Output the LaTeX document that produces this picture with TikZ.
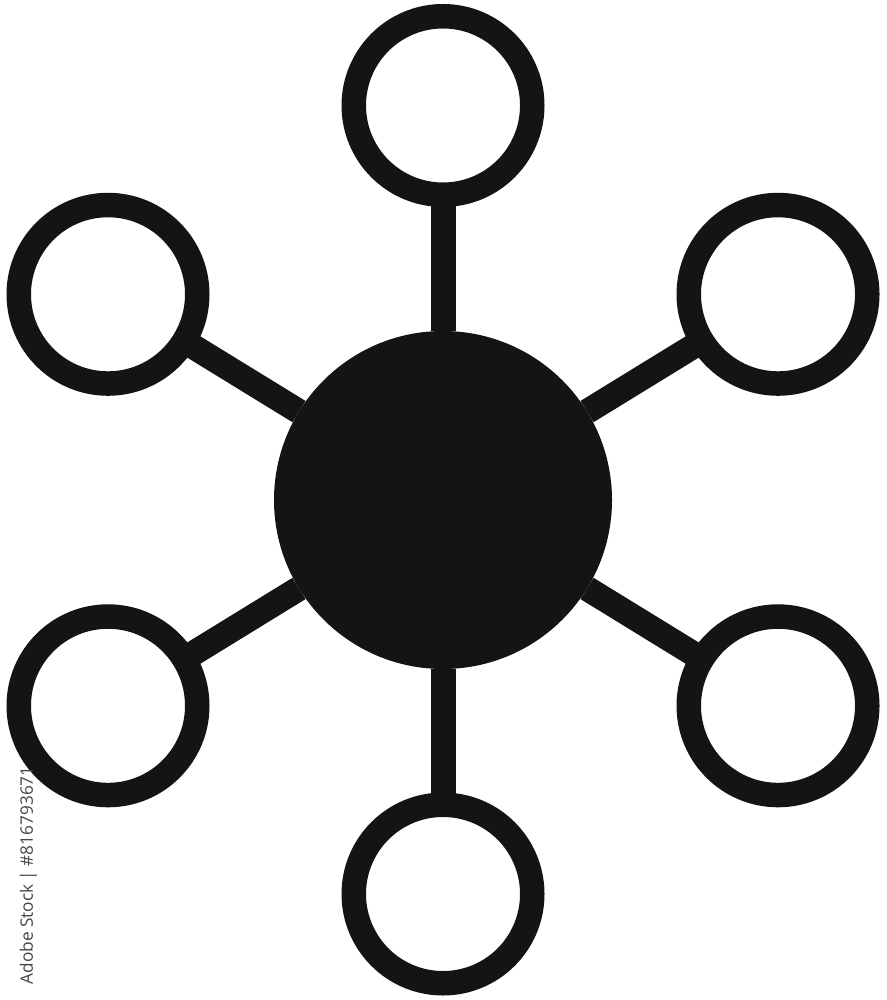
\documentclass[tikz,border=0pt]{standalone}
\usepackage{fontspec}
\usepackage{tikz}
\newfontfamily\stockfont{Open Sans}
\definecolor{ink}{RGB}{20,20,20}
\definecolor{idgray}{RGB}{70,70,70}
\tikzset{
	hub/.style={circle, fill=ink, inner sep=0pt, outer sep=0pt, minimum size=3.38cm},
	leaf/.style={circle, draw=ink, line width=0.245cm, inner sep=0pt, outer sep=0pt, minimum size=1.785cm},
	link/.style={draw=ink, line width=0.25cm}
}

\begin{document}
\begin{tikzpicture}
	
	\useasboundingbox (0,0) rectangle (8.86,-10);
	
	\node[hub] (c) at (4.43,-5.00) {};
	\node[leaf] (t) at (4.43,-1.055) {};
	\node[leaf] (b) at (4.43,-8.94) {};
	\node[leaf] (tl) at (1.08,-2.943) {};
	\node[leaf] (tr) at (7.78,-2.943) {};
	\node[leaf] (bl) at (1.08,-7.058) {};
	\node[leaf] (br) at (7.78,-7.058) {};
	
	\draw[link] (c) -- (t);
	\draw[link] (c) -- (b);
	\draw[link] (c) -- (tl);
	\draw[link] (c) -- (tr);
	\draw[link] (c) -- (bl);
	\draw[link] (c) -- (br);
	
	\node[rotate=90, anchor=base west, inner sep=0pt, text=idgray, font=\stockfont\fontsize{4.9pt}{6pt}\selectfont] (id) at (0.33,-9.85) {Adobe Stock | \#816793671};
	
\end{tikzpicture}
\end{document}
